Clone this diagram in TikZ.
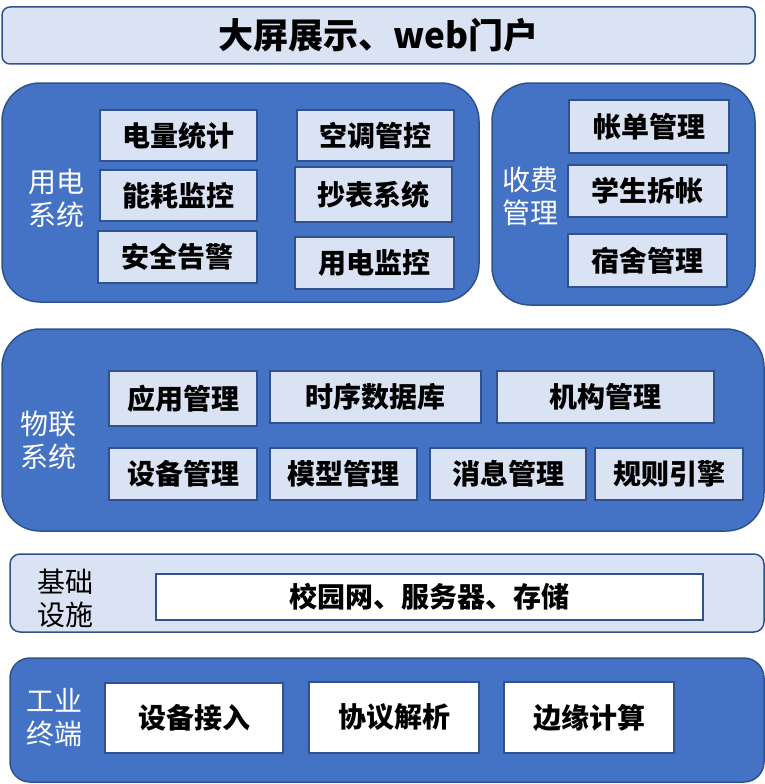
\documentclass[tikz,border=0pt]{standalone}
\usepackage{fontspec}
\setmainfont{Noto Sans CJK SC}
\definecolor{blueA}{HTML}{4472C4}
\definecolor{edgeA}{HTML}{2F528F}
\definecolor{lightA}{HTML}{DAE3F3}
\begin{document}
\begin{tikzpicture}[x=1pt,y=-1pt,
  bigblue/.style={draw=edgeA,fill=blueA,line width=1.5pt,rounded corners=38pt},
  inbox/.style={draw=edgeA,fill=lightA,line width=1.5pt,font=\fontsize{28}{30}\selectfont\bfseries,inner sep=0pt},
  whitebox/.style={draw=edgeA,fill=white,line width=1.5pt,font=\fontsize{28}{30}\selectfont\bfseries,inner sep=0pt},
  wlabel/.style={text=white,font=\fontsize{28}{33}\selectfont,align=center,inner sep=0pt},
  dlabel/.style={text=black,font=\fontsize{28}{33}\selectfont,align=center,inner sep=0pt}]
\useasboundingbox (0,0) rectangle (765,784);
% top banner
\node[draw=edgeA,fill=lightA,line width=1.5pt,rounded corners=8pt,minimum width=753pt,minimum height=57pt,inner sep=0pt,font=\fontsize{35}{38}\selectfont\bfseries] (top) at (378.5,35.5) {大屏展示、web门户};
% 用电系统
\node[bigblue,minimum width=477pt,minimum height=219pt] (yd) at (240.5,192.5) {};
\node[wlabel] (ydl) at (56,198) {用电\\系统};
\node[inbox,minimum width=157pt,minimum height=51pt] (a1) at (178.5,135.5) {电量统计};
\node[inbox,minimum width=157pt,minimum height=51pt] (a2) at (178.5,195.5) {能耗监控};
\node[inbox,minimum width=159pt,minimum height=52pt] (a3) at (177.5,257) {安全告警};
\node[inbox,minimum width=157pt,minimum height=51pt] (a4) at (375.5,135.5) {空调管控};
\node[inbox,minimum width=157pt,minimum height=55pt] (a5) at (373.5,194.5) {抄表系统};
\node[inbox,minimum width=159pt,minimum height=52pt] (a6) at (374.5,263) {用电监控};
% 收费管理
\node[bigblue,minimum width=263pt,minimum height=222pt] (sf) at (623.5,194) {};
\node[wlabel] (sfl) at (530,196) {收费\\管理};
\node[inbox,minimum width=160pt,minimum height=53pt] (b1) at (649,126.5) {帐单管理};
\node[inbox,minimum width=159pt,minimum height=52pt] (b2) at (647.5,191) {学生拆帐};
\node[inbox,minimum width=159pt,minimum height=53pt] (b3) at (647.5,260.5) {宿舍管理};
% 物联系统
\node[bigblue,minimum width=762pt,minimum height=202pt] (wl) at (383,430) {};
\node[wlabel] (wll) at (48,440) {物联\\系统};
\node[inbox,minimum width=148pt,minimum height=55pt] (c1) at (183,398.5) {应用管理};
\node[inbox,minimum width=211pt,minimum height=52pt] (c2) at (375.5,397) {时序数据库};
\node[inbox,minimum width=217pt,minimum height=52pt] (c3) at (605.5,397) {机构管理};
\node[inbox,minimum width=148pt,minimum height=52pt] (c4) at (183,474) {设备管理};
\node[inbox,minimum width=147pt,minimum height=52pt] (c5) at (343.5,474) {模型管理};
\node[inbox,minimum width=156pt,minimum height=52pt] (c6) at (508,474) {消息管理};
\node[inbox,minimum width=148pt,minimum height=52pt] (c7) at (669,474) {规则引擎};
% 基础设施
\node[draw=edgeA,fill=lightA,line width=1.5pt,rounded corners=10pt,minimum width=754pt,minimum height=78pt] (jc) at (387,593) {};
\node[dlabel] (jcl) at (65,598) {基础\\设施};
\node[whitebox,minimum width=547pt,minimum height=46pt] (jcb) at (429.5,597) {校园网、服务器、存储};
% 工业终端
\node[bigblue,rounded corners=20pt,minimum width=754pt,minimum height=124pt] (gy) at (387,720) {};
\node[wlabel] (gyl) at (55,718) {工业\\终端};
\node[whitebox,minimum width=178pt,minimum height=70pt] (d1) at (194,718) {设备接入};
\node[whitebox,minimum width=170pt,minimum height=71pt] (d2) at (394,717.5) {协议解析};
\node[whitebox,minimum width=170pt,minimum height=71pt] (d3) at (589,717.5) {边缘计算};
\end{tikzpicture}
\end{document}
